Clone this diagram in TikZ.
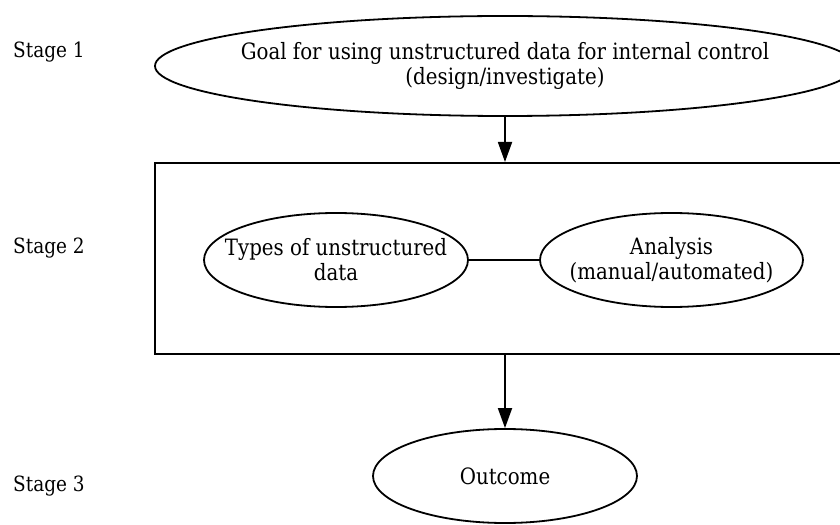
\documentclass[tikz,border=0pt]{standalone}
\usepackage{fontspec}
\setmainfont{DejaVu Serif}[FakeStretch=0.88]
\usetikzlibrary{arrows.meta,shapes.geometric}
\begin{document}
\begin{tikzpicture}[x=1bp,y=-1bp,
  every node/.style={font=\fontsize{22.5bp}{25bp}\selectfont},
  oval/.style={draw, line width=1.8bp, ellipse, inner xsep=-80bp, inner ysep=-30bp, align=center},
  frame/.style={draw, line width=2bp, rectangle, inner sep=0pt},
  flow/.style={line width=1.8bp, -{Triangle[length=20bp,width=14bp]}},
  link/.style={line width=1.8bp},
  stagelbl/.style={anchor=west, inner sep=0pt, font=\fontsize{21bp}{25bp}\selectfont}]
\useasboundingbox (0,0) rectangle (840,525);
\clip (0,0) rectangle (840,525);
\node[stagelbl] (s1) at (13,52) {Stage 1};
\node[stagelbl] (s2) at (13,248) {Stage 2};
\node[stagelbl] (s3) at (13,486) {Stage 3};
\node[oval, minimum width=700bp, minimum height=100bp] (goal) at (505,66)
  {Goal for using unstructured data for internal control\\(design/investigate)};
\node[frame, minimum width=700bp, minimum height=191bp] (box) at (505,258.5) {};
\node[oval, minimum width=264bp, minimum height=94bp] (types) at (336,260)
  {Types of unstructured\\data};
\node[oval, minimum width=263bp, minimum height=94bp] (analysis) at (671.5,260)
  {Analysis\\(manual/automated)};
\node[oval, minimum width=264bp, minimum height=94bp] (outcome) at (505,476)
  {Outcome};
\draw[flow] (goal.south) -- (box.north);
\draw[flow] (box.south) -- (outcome.north);
\draw[link] (types) -- (analysis);
\end{tikzpicture}
\end{document}
